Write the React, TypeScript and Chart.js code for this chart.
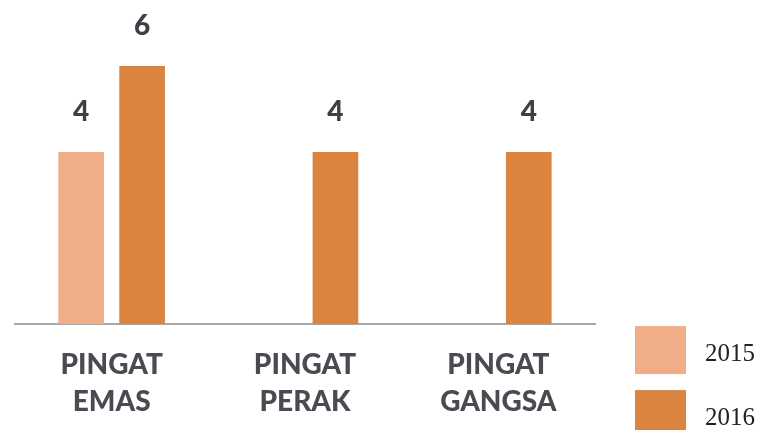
import React, { useEffect, useRef } from "react";
import { Chart, registerables } from "chart.js";

Chart.register(...registerables);

const categories: string[][] = [["PINGAT", "EMAS"], ["PINGAT", "PERAK"], ["PINGAT", "GANGSA"]];
const seriesLabels = ["2015", "2016"];
const values2015: (number | null)[] = [4, null, null];
const values2016: (number | null)[] = [6, 4, 4];
const colors = ["#F0AD88", "#DA843F"];

const valueLabelPlugin = {
  id: "valueLabels",
  afterDatasetsDraw(chart: any) {
    const ctx = chart.ctx;
    ctx.save();
    ctx.font = "900 28px Lato";
    ctx.fillStyle = "#3d3f47";
    ctx.textAlign = "center";
    ctx.textBaseline = "middle";
    chart.data.datasets.forEach((ds: any, i: number) => {
      const meta = chart.getDatasetMeta(i);
      meta.data.forEach((el: any, j: number) => {
        const v = ds.data[j];
        if (v === null || v === undefined) return;
        ctx.fillText(String(v), el.x, el.y - 40);
      });
    });
    ctx.restore();
  },
};

const sideLegendPlugin = {
  id: "sideLegend",
  afterDraw(chart: any) {
    const ctx = chart.ctx;
    const area = chart.chartArea;
    ctx.save();
    chart.data.datasets.forEach((ds: any, i: number) => {
      const bx = area.right + 40;
      const by = area.bottom + 2 + i * 64;
      ctx.fillStyle = ds.backgroundColor;
      ctx.fillRect(bx, by, 51, 48);
      ctx.font = "25px 'Liberation Serif'";
      ctx.fillStyle = "#222222";
      ctx.textAlign = "left";
      ctx.textBaseline = "middle";
      ctx.fillText(ds.label, bx + 70, by + 28);
    });
    ctx.restore();
  },
};

export default function App() {
  const ref = useRef<HTMLCanvasElement | null>(null);
  useEffect(() => {
    if (!ref.current) return;
    const chart = new Chart(ref.current, {
      type: "bar",
      data: {
        labels: categories,
        datasets: [
          { label: seriesLabels[0], data: values2015, backgroundColor: colors[0] },
          { label: seriesLabels[1], data: values2016, backgroundColor: colors[1] },
        ],
      },
      options: {
        responsive: false,
        animation: false,
        events: [],
        categoryPercentage: 0.63,
        barPercentage: 0.75,
        layout: { padding: { left: 15, right: 166, top: 23, bottom: 12 } },
        plugins: { legend: { display: false }, tooltip: { enabled: false } },
        scales: {
          x: {
            grid: { display: false, drawTicks: false },
            border: { display: true, color: "#A8A8A8", width: 2 },
            ticks: {
              padding: 22,
              color: "#4a4b52",
              font: { family: "Lato", weight: "900", size: 28, lineHeight: 1.32 },
              maxRotation: 0,
              autoSkip: false,
            },
          },
          y: { display: false, min: 0, max: 7 },
        },
      },
      plugins: [valueLabelPlugin, sideLegendPlugin],
    } as any);
    return () => chart.destroy();
  }, []);
  return (
    <div style={{ position: "fixed", left: 0, top: 0, width: 761, height: 430, overflow: "hidden", background: "#fff" }}>
      <canvas ref={ref} width={761} height={454} style={{ width: 761, height: 454, display: "block" }} />
    </div>
  );
}
